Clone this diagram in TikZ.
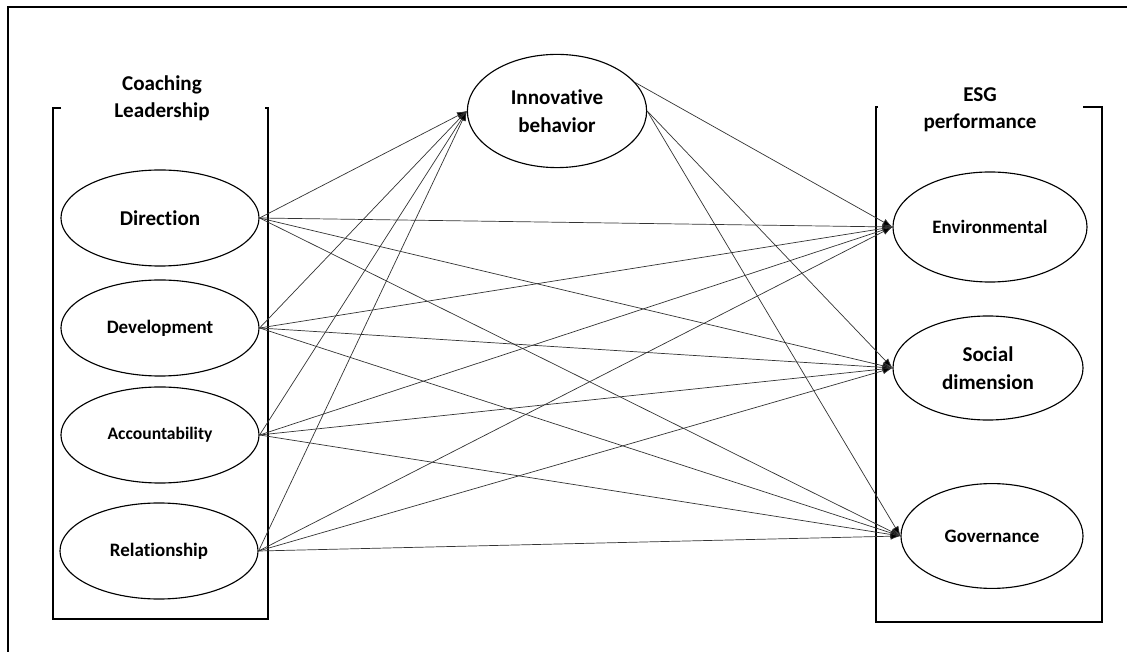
\documentclass[tikz,border=0pt]{standalone}
\usepackage{fontspec}
\setmainfont[Ligatures=NoCommon]{Carlito}
\usetikzlibrary{shapes.geometric,arrows.meta}

\begin{document}
\begin{tikzpicture}[x=0.025cm,y=0.025cm,
  var/.style={draw,ellipse,line width=0.8pt,inner sep=0pt,align=center,minimum width=4.95cm,minimum height=2.4cm},
  big/.style={font=\bfseries\fontsize{15}{19.5}\selectfont,align=center},
  small/.style={font=\bfseries\fontsize{13.5}{17}\selectfont},
  link/.style={draw=black!80,line width=0.5pt,-{Latex[length=7pt,width=5pt,fill=black]}}]
\useasboundingbox (0,0) rectangle (1127,652);
\draw[line width=1.3pt] (8,0) -- (8,645) -- (1127,645);
% group boxes
\draw[line width=0.9pt] (61,544) -- (53,544) -- (53,33) -- (268,33) -- (268,544) -- (265,544);
\draw[line width=0.9pt] (878,545) -- (876,545) -- (876,30) -- (1102,30) -- (1102,545) -- (1083,545);
\node[big] (cl) at (162,553.5) {Coaching\\Leadership};
\node[big] (esg) at (980,542) {ESG\\performance};
% coaching leadership
\node[var,big] (dir) at (160,434) {Direction};
\node[var,small] (dev) at (160,324) {Development};
\node[var,font=\bfseries\fontsize{12.5}{15}\selectfont] (acc) at (160,217) {Accountability};
\node[var,small] (rel) at (159,101) {Relationship};
% mediator
\node[var,big,minimum width=4.48cm,minimum height=2.83cm] (inno) at (557,541) {Innovative\\behavior};
% esg performance
\node[var,small,minimum width=4.85cm,minimum height=2.75cm] (env) at (990,425) {Environmental};
\node[var,big,minimum width=4.75cm,minimum height=2.6cm] (soc) at (988,284) {Social\\dimension};
\node[var,small,minimum width=4.55cm,minimum height=2.62cm] (gov) at (992,116) {Governance};
% paths
\foreach \s in {dir,dev,acc,rel}
  \foreach \t in {inno,env,soc,gov}
    \draw[link] (\s.east) -- (\t.west);
\draw[link] (inno.20) -- (env.west);
\draw[link] (inno.east) -- (soc.west);
\draw[link] (inno.east) -- (gov.west);
\end{tikzpicture}
\end{document}
